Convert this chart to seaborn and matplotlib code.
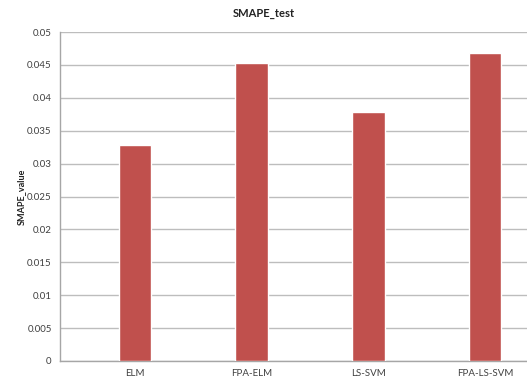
import matplotlib
matplotlib.use("Agg")
import matplotlib.pyplot as plt
import seaborn as sns
import pandas as pd

# values
models = ["ELM", "FPA-ELM", "LS-SVM", "FPA-LS-SVM"]
smape = [0.0328, 0.0453, 0.0378, 0.0468]
yticks = [0, 0.005, 0.01, 0.015, 0.02, 0.025, 0.03, 0.035, 0.04, 0.045, 0.05]
ytick_labels = ["0", "0.005", "0.01", "0.015", "0.02", "0.025", "0.03",
                "0.035", "0.04", "0.045", "0.05"]

df = pd.DataFrame({"model": models, "smape": smape})

sns.set_style("white")
plt.rcParams["font.family"] = ["Lato", "DejaVu Sans"]

fig = plt.figure(figsize=(5.27, 3.79), dpi=100)
ax = fig.add_axes([0.114, 0.0475, 0.886, 0.868])

sns.barplot(data=df, x="model", y="smape", color="#c0504d", width=0.28,
            saturation=1, ax=ax, zorder=3)

ax.set_ylim(0, 0.05)
ax.set_xlim(-0.643, 3.36)
ax.set_yticks(yticks)
ax.set_yticklabels(ytick_labels)
ax.yaxis.grid(True, color="#bdbdbd", linewidth=1)
ax.set_axisbelow(True)

for s in ["top", "right"]:
    ax.spines[s].set_visible(False)
for s in ["left", "bottom"]:
    ax.spines[s].set_color("#a6a6a6")
    ax.spines[s].set_linewidth(1)

ax.tick_params(axis="both", labelsize=7, colors="#404040", length=0, pad=6)
ax.set_xlabel("")
ax.set_ylabel("SMAPE_value", fontsize=6.5, fontweight="bold", color="#222222", labelpad=1)
fig.text(0.5, 0.965, "SMAPE_test", ha="center", va="center",
         fontsize=8, fontweight="bold", color="#222222")

fig.savefig("out.png", dpi=100)
